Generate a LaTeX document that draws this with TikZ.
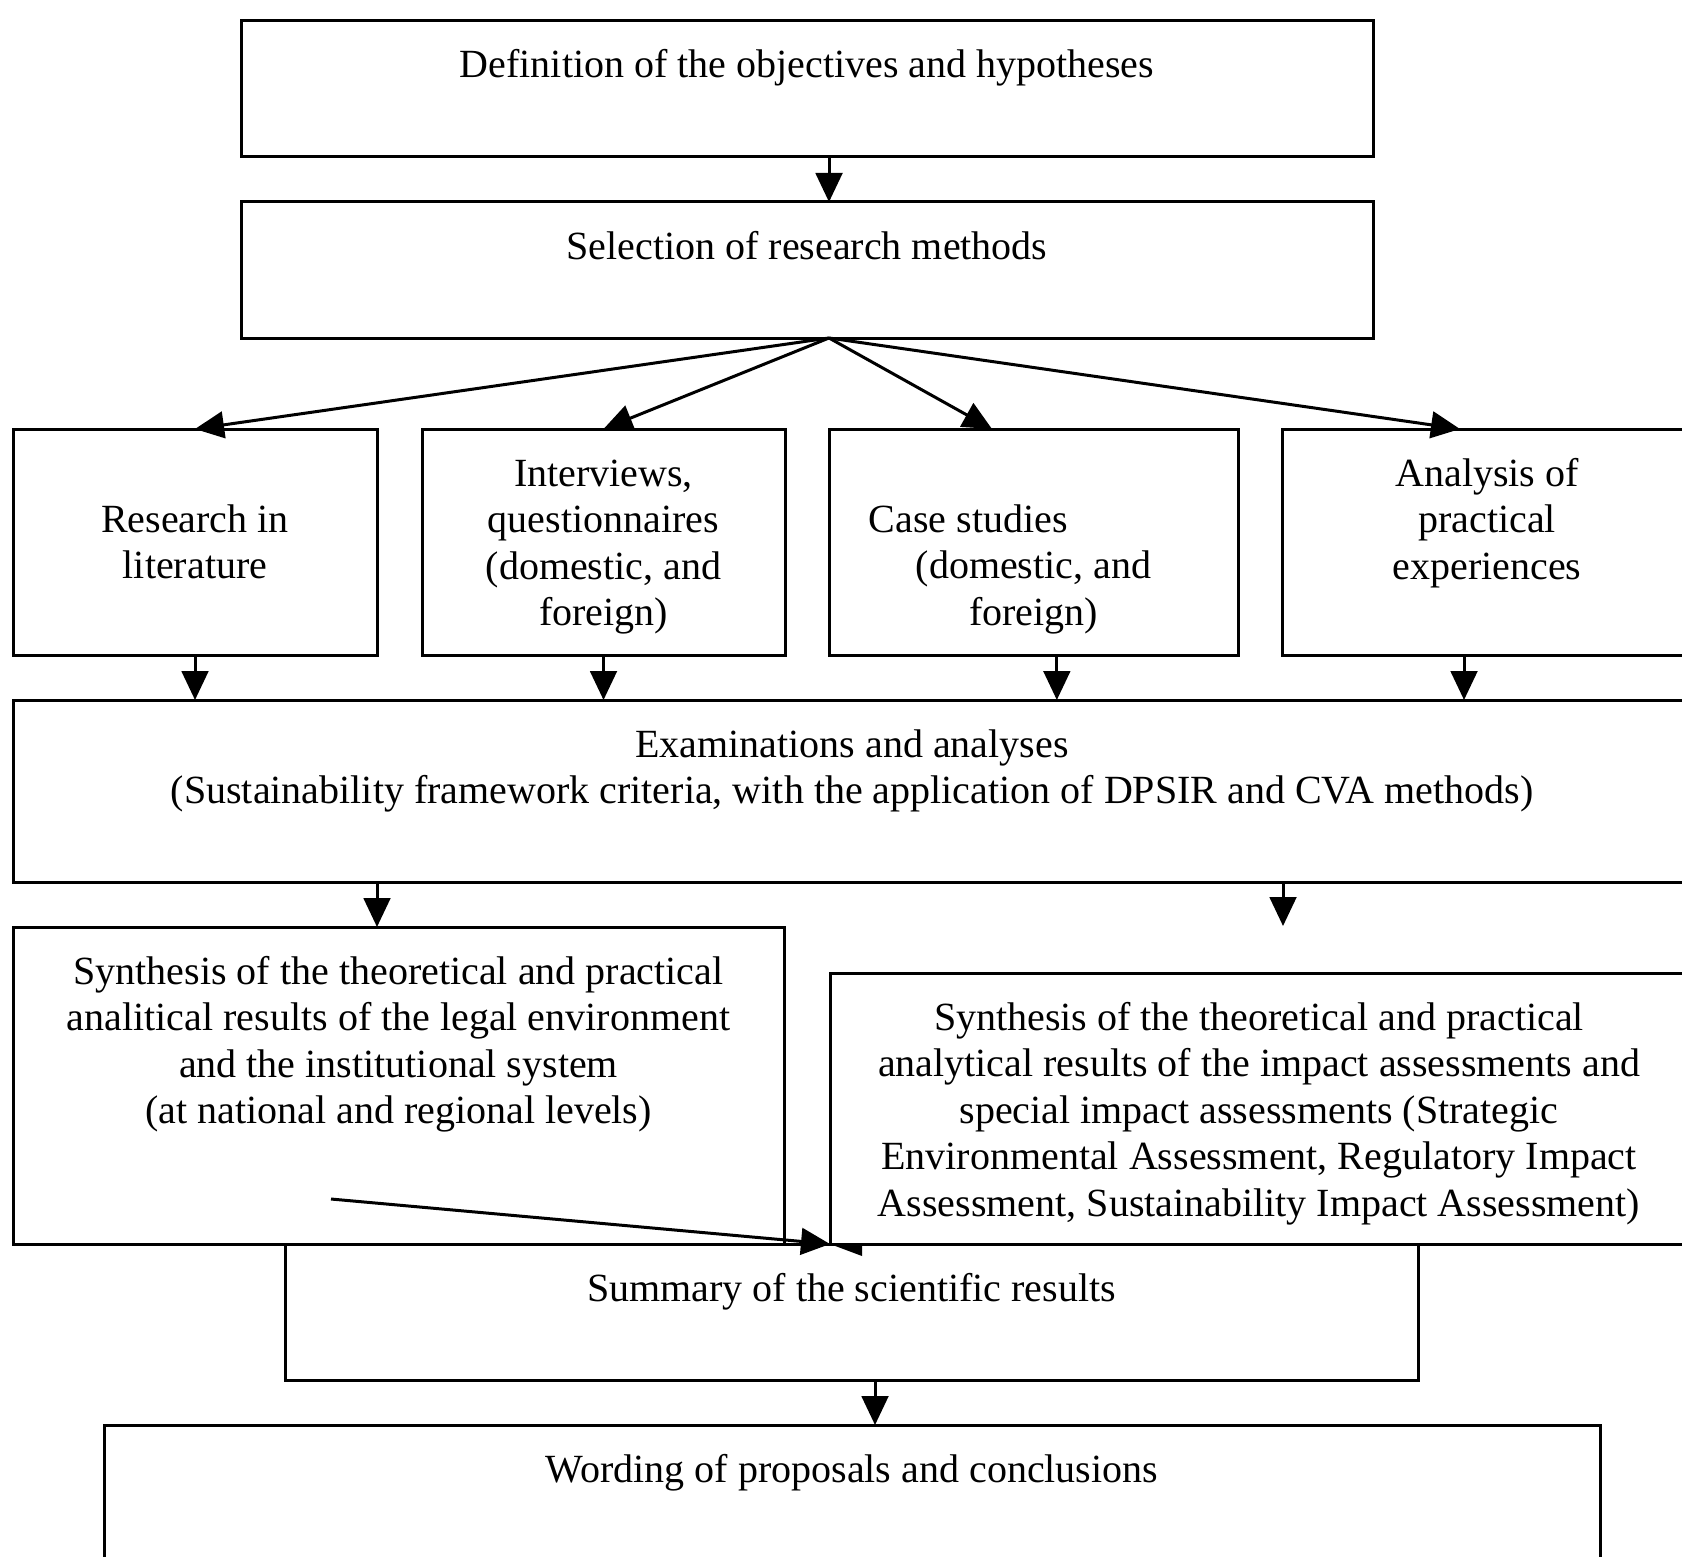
\documentclass[tikz,border=0pt]{standalone}
\usepackage{fontspec}
\setmainfont{Liberation Serif}
\usepackage{tikz}
\usetikzlibrary{arrows.meta}

\tikzset{
  stagebox/.style={draw=drawColor, line width=0.9pt, inner xsep=0pt, inner ysep=0pt,
    outer sep=0pt, anchor=north west, align=center, text height=17.1pt,
    font=\fontsize{12}{13.95}\selectfont},
  flow/.style={draw=drawColor, line width=0.9pt, -{Triangle[length=8.7pt,width=8pt]}}
}

\begin{document}
\begin{tikzpicture}[x=1pt,y=1pt]
\definecolor[named]{drawColor}{rgb}{0,0,0}
\definecolor[named]{fillColor}{rgb}{1,1,1}
\path[use as bounding box,fill=fillColor] (0,0) rectangle (504.60,466.80);
\begin{scope}
\path[clip] (  0.00,  0.00) rectangle (504.60,466.80);

% upper stages
\node[stagebox, minimum width=339.60pt, text depth=23.70pt] (defn) at ( 72.30,460.50) {Definition of the objectives and hypotheses};

\node[stagebox, minimum width=339.60pt, text depth=23.70pt] (sel) at ( 72.30,406.20) {Selection of research methods};

% research methods
\node[stagebox, minimum width=109.20pt, text height=44.85pt, text depth=22.95pt] (lit) at (  3.90,338.10) {Research in\\literature};

\node[stagebox, minimum width=108.90pt, text height=58.95pt, text depth=8.85pt] (intv) at (126.60,338.10) {Interviews,\\questionnaires\\(domestic, and\\foreign)};

\node[stagebox, minimum width=122.70pt, text height=58.85pt, text depth=8.95pt] (case) at (248.70,338.10) {Case studies\hspace*{39.2pt}\\(domestic, and\\foreign)};

\node[stagebox, minimum width=123.00pt, text height=45.00pt, text depth=22.80pt] (anal) at (384.60,338.10) {Analysis of\\practical\\experiences};

% examination
\node[stagebox, minimum width=503.40pt, text height=31.05pt, text depth=23.55pt] (exam) at (  3.90,256.80) {Examinations and analyses\\(Sustainability framework criteria, with the application of DPSIR and CVA methods)};

% syntheses
\node[stagebox, minimum width=231.30pt, text height=58.95pt, text depth=36.15pt] (synL) at (  3.90,188.70) {Synthesis of the theoretical and practical\\analitical results of the legal environment\\and the institutional system\\(at national and regional levels)};

\node[stagebox, minimum width=257.40pt, text height=72.90pt, text depth=8.40pt] (synR) at (249.00,174.90) {Synthesis of the theoretical and practical\\analytical results of the impact assessments and\\special impact assessments (Strategic\\Environmental Assessment, Regulatory Impact\\Assessment, Sustainability Impact Assessment)};

% results
\node[stagebox, minimum width=339.90pt, text depth=23.70pt] (summ) at ( 85.50, 93.60) {Summary of the scientific results};

\node[stagebox, minimum width=448.80pt, text depth=30.00pt] (word) at ( 31.20, 39.30) {Wording of proposals and conclusions};

% connectors
\draw[flow] ([xshift=6.6pt]defn.south) -- ([xshift=6.6pt]sel.north);

\coordinate (fan) at ([xshift=6.6pt]sel.south);
\draw[flow] (fan) -- (lit.north);
\draw[flow] (fan) -- (intv.north);
\draw[flow] (fan) -- ([xshift=-12.45pt]case.north);
\draw[flow] (fan) -- ([xshift=-8.10pt]anal.north);

\coordinate (caseout) at ([xshift=7.00pt]case.south);
\coordinate (analout) at ([xshift=-6.90pt]anal.south);
\draw[flow] (lit.south) -- (lit.south |- exam.north);
\draw[flow] (intv.south) -- (intv.south |- exam.north);
\draw[flow] (caseout) -- (caseout |- exam.north);
\draw[flow] (analout) -- (analout |- exam.north);

\coordinate (synLin) at ([xshift=-6.45pt]synL.north);
\coordinate (synRin) at (384.90,189.00);
\draw[flow] (synLin |- exam.south) -- (synLin);
\draw[flow] (synRin |- exam.south) -- (synRin);

\coordinate (synLout) at ( 99.30,107.10);
\coordinate (summin) at (summ.north -| synR.west);
\draw[flow] (synLout) -- (summin);
\fill[drawColor] (summin) -- ++(9.60,0) -- ++(0,-3.60) -- cycle;

\coordinate (summout) at ([xshift=7.05pt]summ.south);
\draw[flow] (summout) -- (summout |- word.north);
\end{scope}
\end{tikzpicture}
\end{document}
